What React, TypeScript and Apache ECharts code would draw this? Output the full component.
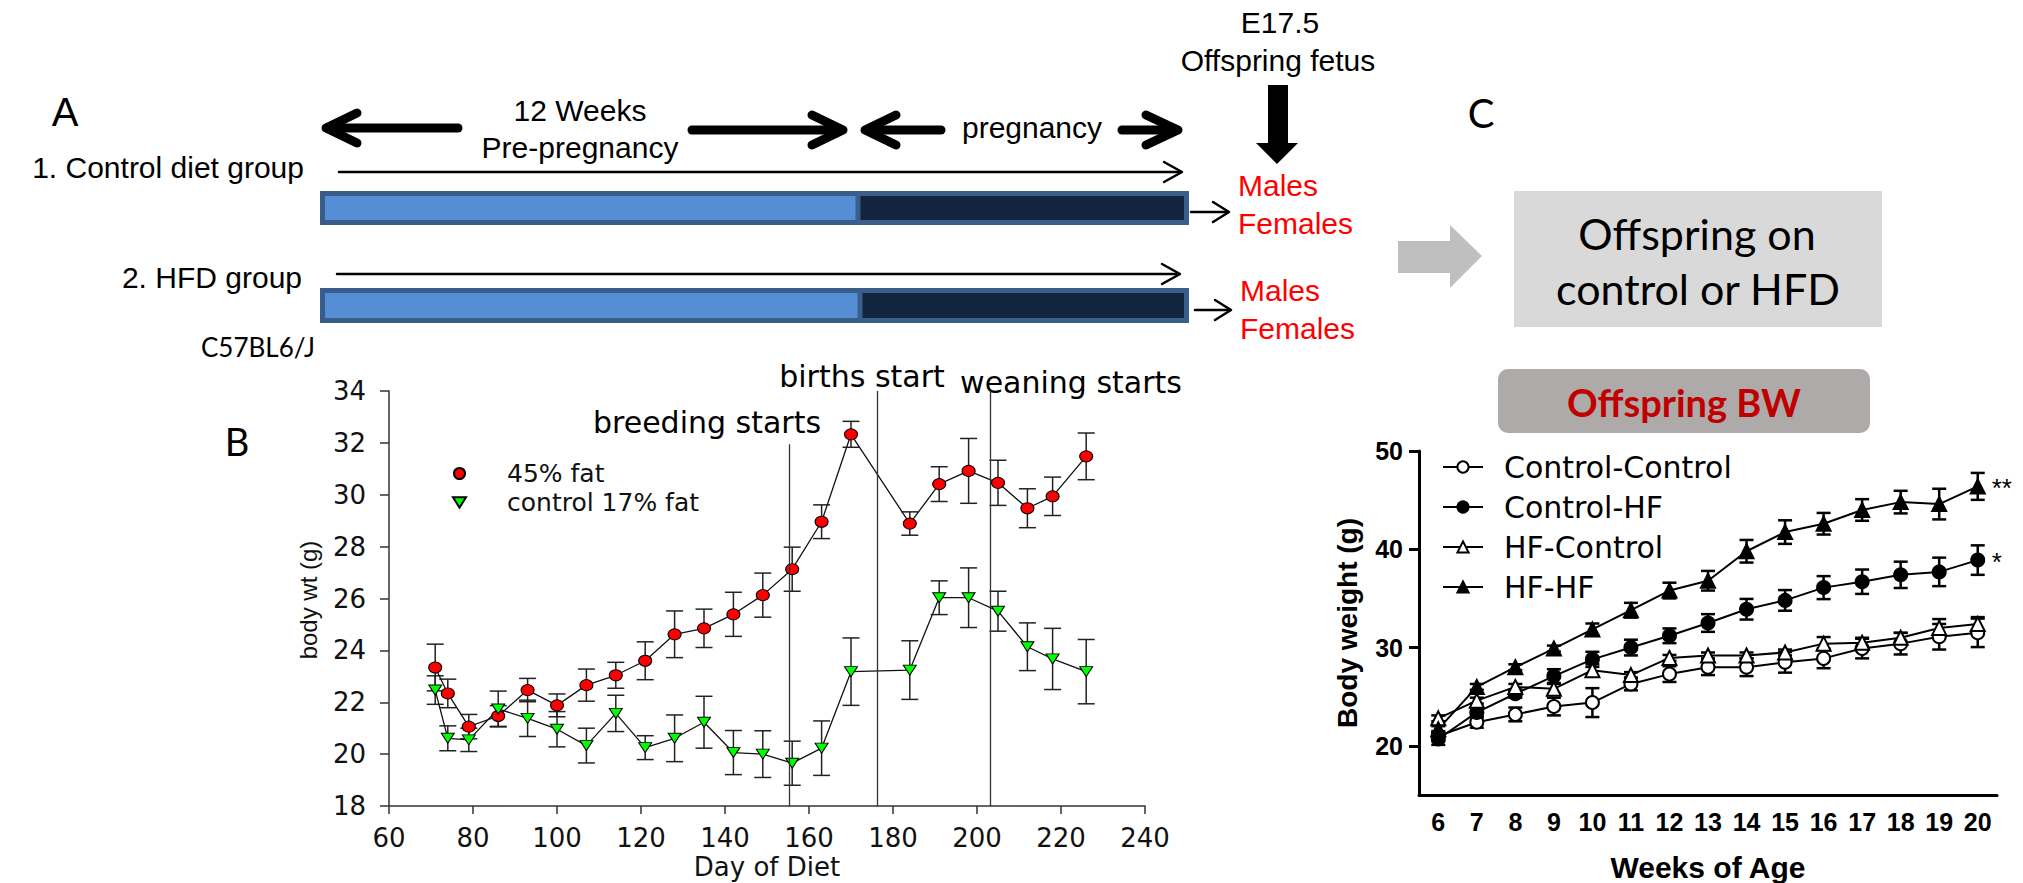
import React, { useEffect, useRef } from "react";
import * as echarts from "echarts";

// ---------- Panel B data ----------
const dietDays = [71, 74, 79, 86, 93, 100, 107, 114, 121, 128, 135, 142, 149, 156, 163, 170, 184, 191, 198, 205, 212, 218, 226];
const highFat = [23.34, 22.34, 21.06, 21.47, 22.47, 21.88, 22.66, 23.04, 23.6, 24.62, 24.85, 25.39, 26.13, 27.13, 28.96, 32.33, 28.89, 30.41, 30.92, 30.46, 29.48, 29.94, 31.48];
const highFatErr = [0.9, 0.55, 0.47, 0.4, 0.45, 0.44, 0.62, 0.5, 0.73, 0.9, 0.74, 0.85, 0.85, 0.85, 0.65, 0.5, 0.45, 0.67, 1.25, 0.87, 0.75, 0.74, 0.9];
const controlFat = [22.47, 20.61, 20.55, 21.74, 21.38, 20.96, 20.33, 21.57, 20.25, 20.61, 21.23, 20.06, 20.0, 19.65, 20.23, 23.18, 23.24, 26.03, 26.03, 25.51, 24.14, 23.67, 23.18];
const controlFatErr = [0.55, 0.48, 0.45, 0.69, 0.7, 0.68, 0.67, 0.7, 0.46, 0.9, 1.0, 0.85, 0.9, 0.85, 1.05, 1.3, 1.13, 0.65, 1.15, 0.77, 0.92, 1.18, 1.24];
const eventDays = [155.4, 176.2, 203.1];
const eventTops = [31.95, 34, 34];
const eventLabels = ["breeding starts", "births start", "weaning starts"];
const seriesNamesB = ["45% fat", "control 17% fat"];

// ---------- Panel C data ----------
const weeks = ["6", "7", "8", "9", "10", "11", "12", "13", "14", "15", "16", "17", "18", "19", "20"];
const ctrlCtrl = [21.0, 22.4, 23.2, 24.0, 24.4, 26.3, 27.3, 28.0, 28.0, 28.5, 28.9, 29.9, 30.4, 31.1, 31.5];
const ctrlCtrlErr = [0.5, 0.55, 0.7, 0.9, 1.47, 0.65, 0.8, 0.8, 0.9, 1.05, 1.0, 1.0, 1.1, 1.3, 1.45];
const ctrlHF = [20.7, 23.4, 25.3, 27.1, 28.8, 30.0, 31.2, 32.5, 33.9, 34.8, 36.1, 36.7, 37.4, 37.7, 38.9];
const ctrlHFErr = [0.6, 0.5, 0.4, 0.7, 0.77, 0.8, 0.75, 0.9, 1.05, 1.05, 1.17, 1.24, 1.34, 1.45, 1.5];
const hfCtrl = [22.8, 24.6, 26.0, 25.8, 27.7, 27.2, 28.95, 29.2, 29.2, 29.5, 30.4, 30.5, 31.0, 32.0, 32.4];
const hfCtrlErr = [0.3, 0.3, 0.3, 0.5, 0.6, 0.3, 0.3, 0.3, 0.3, 0.3, 0.67, 0.5, 0.5, 0.9, 0.7];
const hfHF = [21.7, 26.0, 28.0, 29.9, 31.85, 33.8, 35.8, 36.8, 39.8, 41.75, 42.6, 44.0, 44.8, 44.6, 46.4];
const hfHFErr = [0.3, 0.3, 0.3, 0.3, 0.6, 0.75, 0.8, 1.0, 1.15, 1.2, 1.1, 1.1, 1.15, 1.56, 1.37];
const seriesNamesC = ["Control-Control", "Control-HF", "HF-Control", "HF-HF"];
const yTicksC = [20, 30, 40, 50];

const DOWN_TRI = "path://M0,0L10,0L5,8Z";

function errorRenderer(capW: number, lw: number, color: string) {
  return (params: any, api: any) => {
    const x = api.value(0);
    const lo = api.value(1);
    const hi = api.value(2);
    const p1 = api.coord([x, hi]);
    const p2 = api.coord([x, lo]);
    const st = { stroke: color, lineWidth: lw };
    return {
      type: "group",
      children: [
        { type: "line", shape: { x1: p1[0], y1: p1[1], x2: p2[0], y2: p2[1] }, style: st },
        { type: "line", shape: { x1: p1[0] - capW / 2, y1: p1[1], x2: p1[0] + capW / 2, y2: p1[1] }, style: st },
        { type: "line", shape: { x1: p2[0] - capW / 2, y1: p2[1], x2: p2[0] + capW / 2, y2: p2[1] }, style: st },
      ],
    };
  };
}

function txt(text: string, x: number, y: number, font: string, fill = "#000", align = "center", rotation = 0) {
  return {
    type: "text",
    x,
    y,
    rotation,
    style: { text, font, fill, align, verticalAlign: "middle", textAlign: align, textVerticalAlign: "middle" },
  };
}
function poly(points: number[][], lw: number, color = "#000") {
  return {
    type: "polyline",
    shape: { points },
    style: { stroke: color, lineWidth: lw, fill: null, lineCap: "round", lineJoin: "round" },
  };
}

export default function App() {
  const ref = useRef<HTMLDivElement>(null);
  useEffect(() => {
    document.body.style.margin = "0";
    const chart = echarts.init(ref.current!, null, { renderer: "svg" });

    const armFontA = "30px 'Liberation Sans', Arial, sans-serif";
    const annFont = "30px 'DejaVu Sans', sans-serif";
    const graphics: any[] = [
      // Panel A bars
      { type: "rect", shape: { x: 322.5, y: 193.5, width: 536, height: 29 }, style: { fill: "#558ed5", stroke: "#385d8a", lineWidth: 5 } },
      { type: "rect", shape: { x: 858, y: 193.5, width: 328.5, height: 29 }, style: { fill: "#13243f", stroke: "#3b5f8c", lineWidth: 5 } },
      { type: "rect", shape: { x: 322.5, y: 290.5, width: 538, height: 30 }, style: { fill: "#558ed5", stroke: "#385d8a", lineWidth: 5 } },
      { type: "rect", shape: { x: 860, y: 290.5, width: 326.5, height: 30 }, style: { fill: "#13243f", stroke: "#3b5f8c", lineWidth: 5 } },
      // thin arrows
      poly([[339, 172], [1181, 172]], 2.5),
      poly([[1164, 162], [1182, 172], [1164, 182]], 2.5),
      poly([[337, 274], [1179, 274]], 2.5),
      poly([[1162, 264], [1180, 274], [1162, 284]], 2.5),
      poly([[1191, 212], [1228, 212]], 2.5),
      poly([[1213, 202], [1229, 212], [1213, 222]], 2.5),
      poly([[1195, 310], [1230, 310]], 2.5),
      poly([[1215, 300], [1231, 310], [1215, 320]], 2.5),
      // thick arrows
      poly([[458, 128], [330, 128]], 9),
      poly([[357, 113], [326, 128], [357, 143]], 9),
      poly([[692, 130], [838, 130]], 9),
      poly([[812, 115], [843, 130], [812, 145]], 9),
      poly([[941, 130], [870, 130]], 9),
      poly([[896, 115], [865, 130], [896, 145]], 9),
      poly([[1122, 130], [1173, 130]], 9),
      poly([[1146, 115], [1178, 130], [1146, 145]], 9),
      {
        type: "polygon",
        shape: { points: [[1268, 85], [1288, 85], [1288, 143], [1298, 143], [1277, 164], [1256, 143], [1268, 143]] },
        style: { fill: "#000" },
      },
      // Panel A texts
      txt("A", 65, 112, "40px 'Liberation Sans', Arial, sans-serif"),
      txt("12 Weeks", 580, 110, armFontA),
      txt("Pre-pregnancy", 580, 147, armFontA),
      txt("pregnancy", 1032, 127, armFontA),
      txt("E17.5", 1280, 22, armFontA),
      txt("Offspring fetus", 1278, 60, armFontA),
      txt("1. Control diet group", 304, 167, armFontA, "#000", "right"),
      txt("2. HFD group", 302, 277, armFontA, "#000", "right"),
      txt("Males", 1238, 185, armFontA, "#ff0000", "left"),
      txt("Females", 1238, 223, armFontA, "#ff0000", "left"),
      txt("Males", 1240, 290, armFontA, "#ff0000", "left"),
      txt("Females", 1240, 328, armFontA, "#ff0000", "left"),
      txt("C57BL6/J", 258, 347, "26px Lato, sans-serif"),
      // Panel C top
      txt("C", 1481, 113, "40px Lato, sans-serif"),
      {
        type: "polygon",
        shape: { points: [[1398, 241], [1450, 241], [1450, 225], [1482, 256], [1450, 288], [1450, 273], [1398, 273]] },
        style: { fill: "#bfbfbf" },
      },
      { type: "rect", shape: { x: 1514, y: 191, width: 368, height: 136 }, style: { fill: "#d9d9d9" } },
      txt("Offspring on", 1697, 233, "43px Lato, sans-serif"),
      txt("control or HFD", 1698, 288, "43px Lato, sans-serif"),
      { type: "rect", shape: { x: 1498, y: 369, width: 372, height: 64, r: 10 }, style: { fill: "#aeaaaa" } },
      txt("Offspring BW", 1684, 402, "bold 38px Lato, sans-serif", "#c00000"),
      // Panel B labels
      txt("B", 237, 441, "38px Lato, sans-serif"),
      txt("body wt (g)", 308, 600, "24px 'Liberation Sans', Arial, sans-serif", "#111", "center", Math.PI / 2),
      txt(eventLabels[0], 707, 422, annFont),
      txt(eventLabels[1], 862, 376, annFont),
      txt(eventLabels[2], 1071, 382, annFont),
    ];

    const fontB = "DejaVu Sans";
    const errDataB = (vals: number[], errs: number[]) => dietDays.map((d, i) => [d, vals[i] - errs[i], vals[i] + errs[i]]);
    const errDataC = (vals: number[], errs: number[]) => weeks.map((w, i) => [i, vals[i] - errs[i], vals[i] + errs[i]]);

    const lineC = (name: string, vals: number[], symbol: string, filled: boolean, endText?: string) => ({
      name,
      type: "line",
      xAxisIndex: 1,
      yAxisIndex: 1,
      data: vals,
      symbol,
      symbolSize: symbol === "triangle" ? 14 : 13,
      z: 4,
      lineStyle: { color: "#000", width: 2 },
      itemStyle: { color: filled ? "#000" : "#fff", borderColor: "#000", borderWidth: 2 },
      endLabel: endText
        ? {
            show: true,
            formatter: endText,
            distance: 14,
            offset: [0, 2],
            fontSize: 26,
            fontFamily: "'Liberation Sans', Arial, sans-serif",
            color: "#000",
          }
        : { show: false },
    });

    const option: any = {
      animation: false,
      backgroundColor: "#fff",
      grid: [
        { left: 389, top: 391, width: 756, height: 415 },
        { left: 1419, top: 451, width: 578, height: 348 },
      ],
      xAxis: [
        {
          gridIndex: 0,
          type: "value",
          min: 60,
          max: 240,
          interval: 20,
          name: "Day of Diet",
          nameLocation: "middle",
          nameGap: 48,
          nameTextStyle: { fontFamily: fontB, fontSize: 26, color: "#111" },
          splitLine: { show: false },
          axisLine: { lineStyle: { color: "#333", width: 1.5 } },
          axisTick: { inside: false, length: 8, lineStyle: { color: "#333", width: 1.5 } },
          axisLabel: { fontFamily: fontB, fontSize: 26, color: "#111", margin: 19 },
        },
        {
          gridIndex: 1,
          type: "category",
          data: weeks,
          boundaryGap: true,
          name: "Weeks of Age",
          nameLocation: "middle",
          nameGap: 57,
          nameTextStyle: { fontFamily: "'Liberation Sans', Arial", fontWeight: "bold", fontSize: 30, color: "#000" },
          axisLine: { lineStyle: { color: "#000", width: 3 } },
          axisTick: { alignWithLabel: true, length: 10, lineStyle: { color: "#000", width: 3 } },
          axisLabel: { fontFamily: "'Liberation Sans', Arial", fontWeight: "bold", fontSize: 25, color: "#000", margin: 14, interval: 0 },
          splitLine: { show: false },
        },
      ],
      yAxis: [
        {
          gridIndex: 0,
          type: "value",
          min: 18,
          max: 34,
          interval: 2,
          splitLine: { show: false },
          axisLine: { show: true, lineStyle: { color: "#333", width: 1.5 } },
          axisTick: { show: true, inside: false, length: 9, lineStyle: { color: "#333", width: 1.5 } },
          axisLabel: { fontFamily: fontB, fontSize: 26, color: "#111", margin: 23 },
        },
        {
          gridIndex: 1,
          type: "value",
          min: 15,
          max: 50,
          name: "Body weight (g)",
          nameLocation: "middle",
          nameGap: 58,
          nameTextStyle: { fontFamily: "'Liberation Sans', Arial", fontWeight: "bold", fontSize: 28, color: "#000" },
          splitLine: { show: false },
          axisLine: { show: true, lineStyle: { color: "#000", width: 3 } },
          axisTick: { show: true, length: 10, lineStyle: { color: "#000", width: 3 }, customValues: yTicksC },
          axisLabel: { fontFamily: "'Liberation Sans', Arial", fontWeight: "bold", fontSize: 25, color: "#000", margin: 16, customValues: yTicksC },
        },
      ],
      legend: [
        {
          data: [
            { name: seriesNamesB[0], icon: "circle" },
            { name: seriesNamesB[1], icon: DOWN_TRI },
          ],
          orient: "vertical",
          left: 447,
          top: 456,
          itemWidth: 13,
          itemHeight: 11,
          itemGap: 4,
          textStyle: { fontFamily: fontB, fontSize: 25, color: "#111", lineHeight: 25, padding: [0, 0, 0, 36] },
        },
        {
          data: seriesNamesC,
          orient: "vertical",
          left: 1437,
          top: 447,
          itemWidth: 40,
          itemHeight: 14,
          itemGap: 10,
          textStyle: { fontFamily: fontB, fontSize: 30, color: "#000", lineHeight: 30, padding: [0, 0, 0, 16] },
        },
      ],
      graphic: { elements: graphics },
      series: [
        {
          name: "errB0",
          type: "custom",
          xAxisIndex: 0,
          yAxisIndex: 0,
          renderItem: errorRenderer(17, 1.5, "#222"),
          data: errDataB(highFat, highFatErr),
          encode: { x: 0, y: [1, 2] },
          z: 2,
          silent: true,
        },
        {
          name: "errB1",
          type: "custom",
          xAxisIndex: 0,
          yAxisIndex: 0,
          renderItem: errorRenderer(17, 1.5, "#222"),
          data: errDataB(controlFat, controlFatErr),
          encode: { x: 0, y: [1, 2] },
          z: 2,
          silent: true,
        },
        {
          name: seriesNamesB[0],
          type: "line",
          xAxisIndex: 0,
          yAxisIndex: 0,
          data: dietDays.map((d, i) => [d, highFat[i]]),
          symbol: "circle",
          symbolSize: [13, 11],
          z: 4,
          lineStyle: { color: "#111", width: 1.3 },
          itemStyle: { color: "#ff0000", borderColor: "#000", borderWidth: 1 },
          markLine: {
            silent: true,
            symbol: ["none", "none"],
            label: { show: false },
            lineStyle: { color: "#333", width: 1.3, type: "solid" },
            data: eventDays.map((d, i) => [{ coord: [d, 18] }, { coord: [d, eventTops[i]] }]),
          },
        },
        {
          name: seriesNamesB[1],
          type: "line",
          xAxisIndex: 0,
          yAxisIndex: 0,
          data: dietDays.map((d, i) => [d, controlFat[i]]),
          symbol: DOWN_TRI,
          symbolSize: [13, 10],
          z: 4,
          lineStyle: { color: "#111", width: 1.3 },
          itemStyle: { color: "#00ff00", borderColor: "#000", borderWidth: 1 },
        },
        ...[
          [ctrlCtrl, ctrlCtrlErr],
          [ctrlHF, ctrlHFErr],
          [hfCtrl, hfCtrlErr],
          [hfHF, hfHFErr],
        ].map((p, k) => ({
          name: "errC" + k,
          type: "custom",
          xAxisIndex: 1,
          yAxisIndex: 1,
          renderItem: errorRenderer(14, 2.5, "#000"),
          data: errDataC(p[0], p[1]),
          encode: { x: 0, y: [1, 2] },
          z: 2,
          silent: true,
        })),
        lineC(seriesNamesC[0], ctrlCtrl, "circle", false),
        lineC(seriesNamesC[1], ctrlHF, "circle", true, "*"),
        lineC(seriesNamesC[2], hfCtrl, "triangle", false),
        lineC(seriesNamesC[3], hfHF, "triangle", true, "**"),
      ],
    };
    chart.setOption(option);
    return () => chart.dispose();
  }, []);
  return <div ref={ref} style={{ width: 2023, height: 883, background: "#fff" }} />;
}
